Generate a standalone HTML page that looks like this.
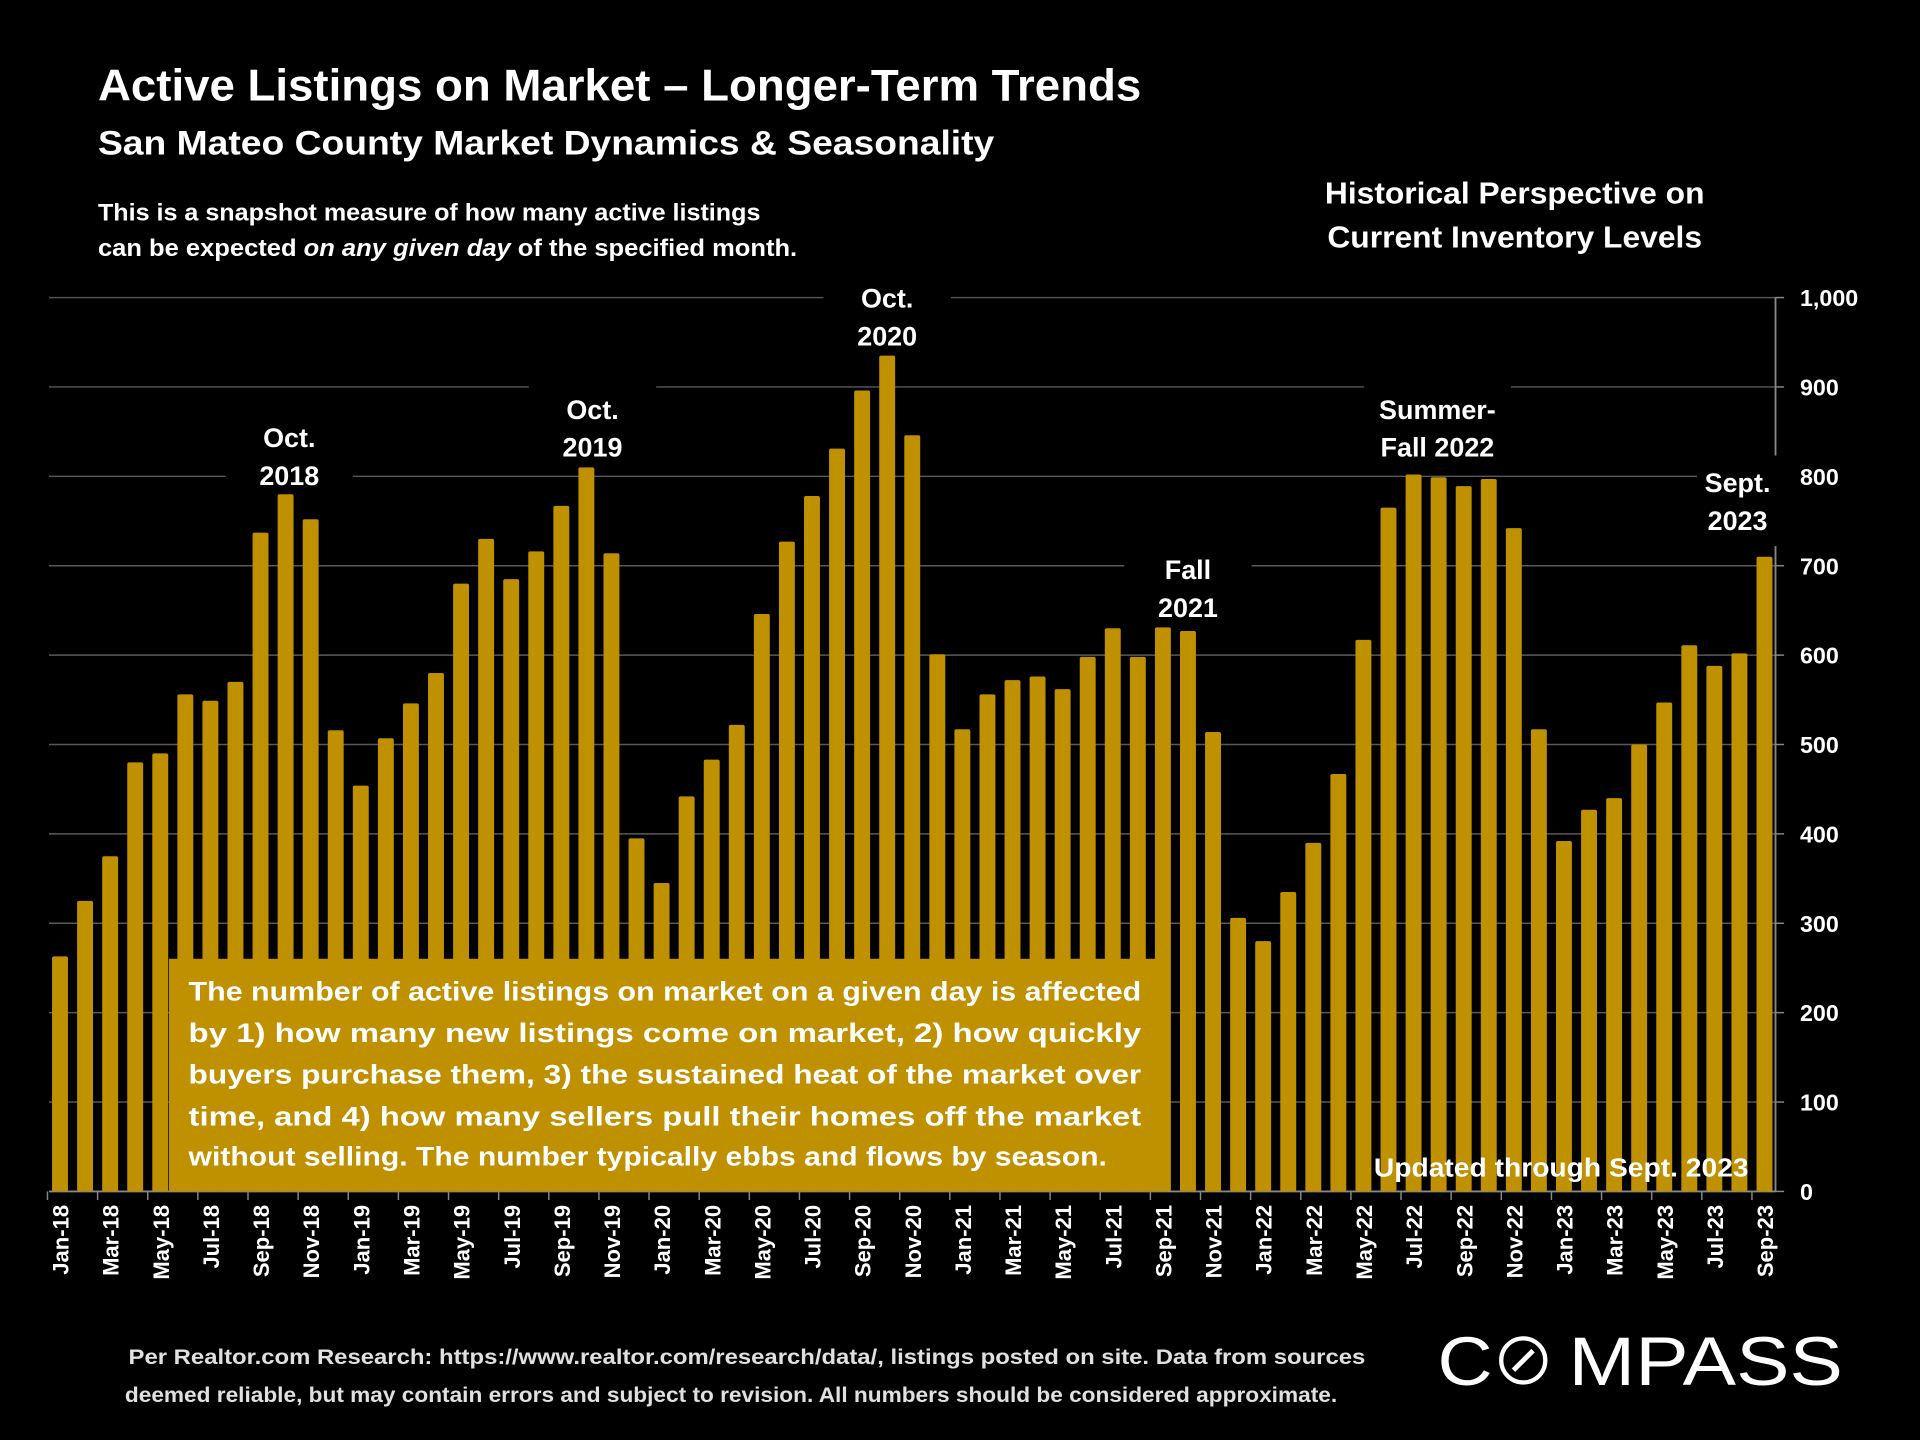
<!DOCTYPE html>
<html><head><meta charset="utf-8"><style>
html,body{margin:0;padding:0;background:#000;}
svg{display:block;}
text{font-family:"Liberation Sans",sans-serif;font-weight:bold;fill:#fff;}
</style></head><body>
<svg id="chart" width="1920" height="1440" viewBox="0 0 1568 1176" xmlns="http://www.w3.org/2000/svg">
<rect width="1568" height="1176" fill="#000"/>
<text x="80" y="82" font-size="36" textLength="852" lengthAdjust="spacingAndGlyphs">Active Listings on Market – Longer-Term Trends</text>
<text x="80" y="126" font-size="28" textLength="732" lengthAdjust="spacingAndGlyphs">San Mateo County Market Dynamics &amp; Seasonality</text>
<text x="80" y="180" font-size="20" textLength="541" lengthAdjust="spacingAndGlyphs">This is a snapshot measure of how many active listings</text>
<text x="80" y="209" font-size="20" textLength="571" lengthAdjust="spacingAndGlyphs">can be expected <tspan font-style="italic">on any given day</tspan> of the specified month.</text>
<text x="1237" y="166" font-size="25" text-anchor="middle" textLength="310" lengthAdjust="spacingAndGlyphs">Historical Perspective on</text>
<text x="1237" y="202" font-size="25" text-anchor="middle" textLength="306" lengthAdjust="spacingAndGlyphs">Current Inventory Levels</text>
<g id="grid"></g><g id="axes"></g><g id="notebg"></g><g id="bars"></g><g id="notes"></g>
<rect x="138" y="783" width="806" height="190" fill="#bf9000"/>
<g font-size="22">
<text x="154" y="817" textLength="778" lengthAdjust="spacingAndGlyphs">The number of active listings on market on a given day is affected</text>
<text x="154" y="851" textLength="778" lengthAdjust="spacingAndGlyphs">by 1) how many new listings come on market, 2) how quickly</text>
<text x="154" y="885" textLength="778" lengthAdjust="spacingAndGlyphs">buyers purchase them, 3) the sustained heat of the market over</text>
<text x="154" y="919" textLength="778" lengthAdjust="spacingAndGlyphs">time, and 4) how many sellers pull their homes off the market</text>
<text x="154" y="952" textLength="750" lengthAdjust="spacingAndGlyphs">without selling. The number typically ebbs and flows by season.</text>
</g>
<text x="1122" y="961" font-size="21" textLength="306" lengthAdjust="spacingAndGlyphs">Updated through Sept. 2023</text>
<text x="610" y="1114" font-size="17" text-anchor="middle" style="fill:#e0e0e0" textLength="1010" lengthAdjust="spacingAndGlyphs">Per Realtor.com Research:  https://www.realtor.com/research/data/, listings posted on site. Data from sources</text>
<text x="597" y="1145" font-size="17" text-anchor="middle" style="fill:#e0e0e0" textLength="990" lengthAdjust="spacingAndGlyphs">deemed reliable, but may contain errors and subject to revision. All numbers should be considered approximate.</text>
<g>
<text x="1174" y="1131" font-size="56" style="font-weight:normal" textLength="45" lengthAdjust="spacingAndGlyphs">C</text>
<circle cx="1244" cy="1111" r="18" fill="none" stroke="#fff" stroke-width="3.5"/>
<line x1="1236" y1="1119" x2="1252" y2="1103" stroke="#fff" stroke-width="4"/>
<text x="1281" y="1131" font-size="56" style="font-weight:normal" textLength="224" lengthAdjust="spacingAndGlyphs">MPASS</text>
</g>
</svg>
<script>
const months=["Jan","Feb","Mar","Apr","May","Jun","Jul","Aug","Sep","Oct","Nov","Dec"];
const categories=[];
for(let y=18;y<=23;y++)for(let m=0;m<12;m++){if(y===23&&m>8)break;categories.push(months[m]+"-"+y);}
const values=[263,325,375,480,490,556,549,570,737,780,752,516,
454,507,546,580,680,730,685,716,767,810,714,395,
345,442,483,522,646,727,778,831,896,935,846,601,
517,556,572,576,562,598,630,598,631,627,514,306,
280,335,390,467,617,765,802,799,789,797,742,517,
392,427,440,500,547,611,588,602,710];
const yTicks=[0,100,200,300,400,500,600,700,800,900,1000];
const yTickLabels=["0","100","200","300","400","500","600","700","800","900","1,000"];
const noteLine1=["Oct.","Oct.","Oct.","Fall","Summer-","Sept."];
const noteLine2=["2018","2019","2020","2021","Fall 2022","2023"];
const noteIndex=[9,21,33,45,55,68];
const NS="http://www.w3.org/2000/svg";
const y0=973,y1=243,xA=49,xB=1441;
const yS=v=>y0-(v/1000)*(y0-y1);
const xS=i=>xA+i*(xB-xA)/(categories.length-1);
function mk(t,a,p){const e=document.createElementNS(NS,t);for(const k in a)e.setAttribute(k,a[k]);p.appendChild(e);return e;}
const grid=document.getElementById('grid'),bars=document.getElementById('bars'),axes=document.getElementById('axes'),notesG=document.getElementById('notes'),noteBg=document.getElementById('notebg');
yTicks.forEach((v,i)=>{
 if(v>0){const l=mk('line',{x1:40,x2:1450,y1:yS(v),y2:yS(v),stroke:'#595959','stroke-width':1.2},grid);
 
 }
 mk('line',{x1:1450,x2:1457,y1:yS(v),y2:yS(v),stroke:'#888','stroke-width':1.2},axes);
 const t=mk('text',{x:1470,y:yS(v)+7,'font-size':19},axes);t.textContent=yTickLabels[i];
 
 
});
const ya=mk('line',{x1:1450,x2:1450,y1:y1,y2:y0,stroke:'#888','stroke-width':1.5},axes);


const xa=mk('line',{x1:40,x2:1450,y1:y0,y2:y0,stroke:'#888','stroke-width':1.5},axes);


categories.forEach((c,i)=>{
 const b=mk('rect',{x:xS(i)-6.5,y:yS(values[i]),width:13,height:y0-yS(values[i]),fill:'#bf9000',rx:1.5},bars);
 
 
 if(i%2===0){
  const tx=xS(i-0.5);
  mk('line',{x1:tx,x2:tx,y1:y0,y2:y0+7,stroke:'#888','stroke-width':1.2},axes);
  const t=mk('text',{x:0,y:0,'font-size':18,'text-anchor':'end',transform:`translate(${xS(i)+7},${y0+11}) rotate(-90)`},axes);
  t.textContent=c;
  
  
 }
});
// annotation layout (pixel placement, not data)
const noteCY=[357,334,243,465,334,394];
const noteDX=[3,5,0,0,-1,-22];
const noteW=[104,104,104,104,120,66];
noteIndex.forEach((idx,k)=>{
 const x=xS(idx)+noteDX[k];const cy=noteCY[k];
 const r=mk('rect',{x:x-noteW[k]/2,y:cy-22,width:noteW[k]+(k===5?6:0),height:74,fill:'#000'},noteBg);
 
 
 const t1=mk('text',{x:x,y:cy+8,'font-size':22,'text-anchor':'middle'},notesG);t1.textContent=noteLine1[k];
 
 
 const t2=mk('text',{x:x,y:cy+39,'font-size':22,'text-anchor':'middle'},notesG);t2.textContent=noteLine2[k];
 
 
});
</script>
</body></html>
